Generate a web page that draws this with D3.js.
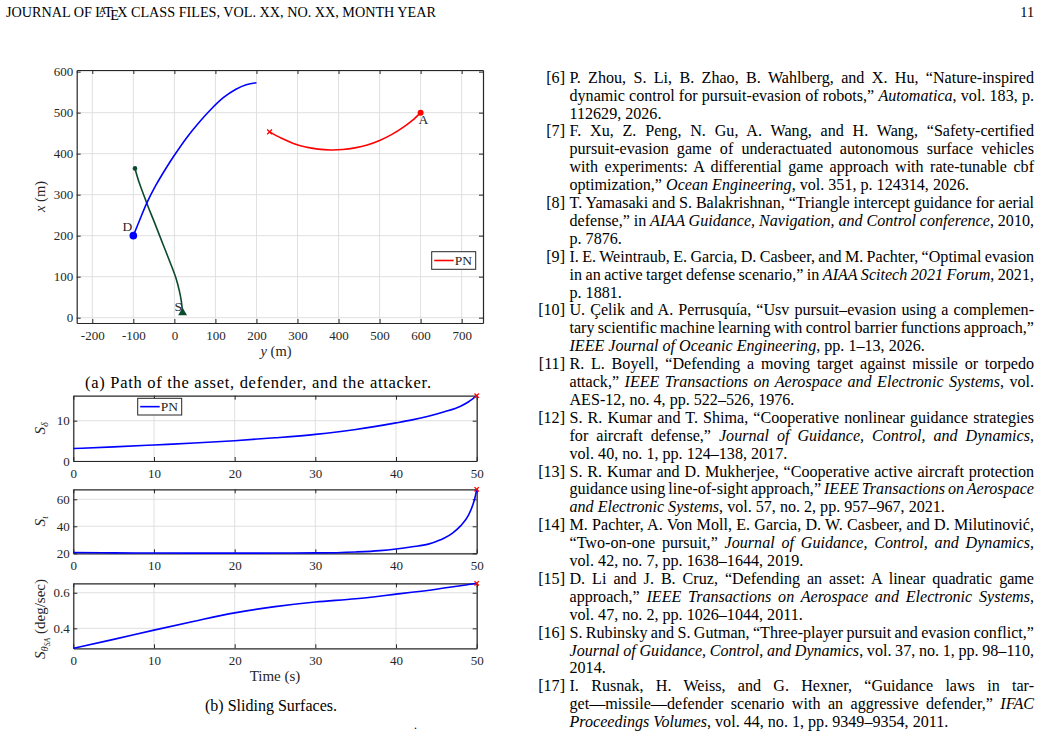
<!DOCTYPE html>
<html>
<head>
<meta charset="utf-8">
<script src="https://cdn.jsdelivr.net/npm/d3@7"></script>
<style>
  body { margin: 0; background: #fff; }
  svg { display: block; }
  text { font-family: "Liberation Serif", "Times New Roman", "DejaVu Serif", serif; }
</style>
</head>
<body>
<svg id="page" width="1042" height="733"></svg>
<script>
// ---- (a) trajectories, horizontal axis is y (m), vertical axis is x (m)
const defenderY = [-100, -85, -67, -45, -20, 0, 30, 60, 90, 120, 150, 175, 200];
const defenderX = [200, 237, 280, 323, 365, 396, 439, 476, 509, 537, 557, 568, 573];
const assetY = [-96, -86, -75, -63, -50, -36, -21, -7, 4, 12, 17, 20];
const assetX = [364, 330, 300, 268, 236, 200, 162, 126, 96, 66, 40, 10];
const attackerY = [600, 580, 560, 530, 500, 470, 440, 410, 380, 350, 320, 290, 260, 232];
const attackerX = [500, 481, 466, 447, 432, 421, 414, 410, 409, 411, 416, 425, 438, 453];
const pathTicksH = [-200, -100, 0, 100, 200, 300, 400, 500, 600, 700];
const pathTicksV = [0, 100, 200, 300, 400, 500, 600];

// ---- (b) sliding surfaces
const timeTicks = [0, 10, 20, 30, 40, 50];
const sDeltaT = [0, 5, 10, 15, 20, 25, 30, 35, 40, 42, 44, 46, 48, 49, 50];
const sDelta = [3.1, 3.5, 3.97, 4.45, 5.04, 5.75, 6.6, 7.8, 9.45, 10.2, 11.1, 12.2, 13.6, 14.7, 16.2];
const sDeltaTicks = [0, 10];
const sTT = [0, 5, 10, 20, 30, 35, 38, 40, 42, 44, 45, 46, 47, 48, 49, 49.5, 49.8, 50];
const sT = [20.6, 20.3, 20.2, 20.1, 20.3, 21.0, 22.0, 23.2, 24.8, 26.8, 28.8, 31.3, 35, 40.3, 48.5, 55.5, 61.5, 67.4];
const sTTicks = [20, 40, 60];
const sThetaT = [0, 5, 10, 15, 20, 25, 30, 35, 40, 45, 50];
const sTheta = [0.288, 0.338, 0.39, 0.44, 0.487, 0.522, 0.548, 0.566, 0.592, 0.62, 0.653];
const sThetaTicks = [0.4, 0.6];

// ---- reference list (right column)
const refLabels = ['[6]', '[7]', '[8]', '[9]', '[10]', '[11]', '[12]', '[13]', '[14]', '[15]', '[16]', '[17]'];
const refLines = [
  ['P. Zhou, S. Li, B. Zhao, B. Wahlberg, and X. Hu, “Nature-inspired',
   'dynamic control for pursuit-evasion of robots,” *Automatica*, vol. 183, p.',
   '112629, 2026.'],
  ['F. Xu, Z. Peng, N. Gu, A. Wang, and H. Wang, “Safety-certified',
   'pursuit-evasion game of underactuated autonomous surface vehicles',
   'with experiments: A differential game approach with rate-tunable cbf',
   'optimization,” *Ocean Engineering*, vol. 351, p. 124314, 2026.'],
  ['T. Yamasaki and S. Balakrishnan, “Triangle intercept guidance for aerial',
   'defense,” in *AIAA Guidance, Navigation, and Control conference*, 2010,',
   'p. 7876.'],
  ['I. E. Weintraub, E. Garcia, D. Casbeer, and M. Pachter, “Optimal evasion',
   'in an active target defense scenario,” in *AIAA Scitech 2021 Forum*, 2021,',
   'p. 1881.'],
  ['U. Çelik and A. Perrusquía, “Usv pursuit–evasion using a complemen-',
   'tary scientific machine learning with control barrier functions approach,”',
   '*IEEE Journal of Oceanic Engineering*, pp. 1–13, 2026.'],
  ['R. L. Boyell, “Defending a moving target against missile or torpedo',
   'attack,” *IEEE Transactions on Aerospace and Electronic Systems*, vol.',
   'AES-12, no. 4, pp. 522–526, 1976.'],
  ['S. R. Kumar and T. Shima, “Cooperative nonlinear guidance strategies',
   'for aircraft defense,” *Journal of Guidance, Control, and Dynamics*,',
   'vol. 40, no. 1, pp. 124–138, 2017.'],
  ['S. R. Kumar and D. Mukherjee, “Cooperative active aircraft protection',
   'guidance using line-of-sight approach,” *IEEE Transactions on Aerospace*',
   '*and Electronic Systems*, vol. 57, no. 2, pp. 957–967, 2021.'],
  ['M. Pachter, A. Von Moll, E. Garcia, D. W. Casbeer, and D. Milutinović,',
   '“Two-on-one pursuit,” *Journal of Guidance, Control, and Dynamics*,',
   'vol. 42, no. 7, pp. 1638–1644, 2019.'],
  ['D. Li and J. B. Cruz, “Defending an asset: A linear quadratic game',
   'approach,” *IEEE Transactions on Aerospace and Electronic Systems*,',
   'vol. 47, no. 2, pp. 1026–1044, 2011.'],
  ['S. Rubinsky and S. Gutman, “Three-player pursuit and evasion conflict,”',
   '*Journal of Guidance, Control, and Dynamics*, vol. 37, no. 1, pp. 98–110,',
   '2014.'],
  ['I. Rusnak, H. Weiss, and G. Hexner, “Guidance laws in tar-',
   'get—missile—defender scenario with an aggressive defender,” *IFAC*',
   '*Proceedings Volumes*, vol. 44, no. 1, pp. 9349–9354, 2011.']
];

const axisColor = '#262626';
const gridColor = '#dcdcdc';
const svg = d3.select('#page');
svg.append('rect').attr('width', 1042).attr('height', 733).attr('fill', '#fff');

// ---------- page header (with the LaTeX logo)
const hs = 14.2;
const header = svg.append('text').attr('x', 6).attr('y', 16.5).attr('font-size', hs);
header.append('tspan').text('JOURNAL OF L');
header.append('tspan').attr('dx', -0.36 * hs).attr('dy', -2.8).attr('font-size', hs * 0.7).text('A');
header.append('tspan').attr('dx', -0.15 * hs).attr('dy', 2.8).text('T');
header.append('tspan').attr('dx', -0.1667 * hs).attr('dy', 3).text('E');
header.append('tspan').attr('dx', -0.125 * hs).attr('dy', -3).text('X CLASS FILES, VOL. XX, NO. XX, MONTH YEAR');
svg.append('text').attr('x', 1034).attr('y', 16.5).attr('font-size', hs)
  .attr('text-anchor', 'end').text('11');

// ---------- shared axis helpers
function drawGrid(g, x, y, xTicks, yTicks) {
  const [l, r] = x.range(), [b, t] = y.range();
  g.selectAll(null).data(xTicks).join('line')
    .attr('x1', d => x(d)).attr('x2', d => x(d)).attr('y1', t).attr('y2', b)
    .attr('stroke', gridColor).attr('stroke-width', 0.9);
  g.selectAll(null).data(yTicks).join('line')
    .attr('y1', d => y(d)).attr('y2', d => y(d)).attr('x1', l).attr('x2', r)
    .attr('stroke', gridColor).attr('stroke-width', 0.9);
}

function styleAxis(sel) {
  sel.attr('font-family', null);
  sel.select('.domain').attr('stroke', axisColor).attr('stroke-width', 1.2);
  sel.selectAll('.tick line').attr('stroke', axisColor).attr('stroke-width', 1);
  sel.selectAll('.tick text').attr('fill', axisColor).attr('font-size', 13);
}

function drawAxes(g, x, y, xTicks, yTicks, fmtY) {
  const [l, r] = x.range(), [b, t] = y.range();
  const fmt = d => String(d);
  g.append('g').attr('transform', `translate(0,${b})`)
    .call(d3.axisBottom(x).tickValues(xTicks).tickSize(-4).tickSizeOuter(0).tickPadding(7.5).tickFormat(fmt))
    .call(styleAxis);
  g.append('g').attr('transform', `translate(0,${t})`)
    .call(d3.axisTop(x).tickValues(xTicks).tickSize(-4).tickSizeOuter(0).tickFormat(''))
    .call(styleAxis);
  g.append('g').attr('transform', `translate(${l},0)`)
    .call(d3.axisLeft(y).tickValues(yTicks).tickSize(-4).tickSizeOuter(0).tickPadding(3.5).tickFormat(fmtY || fmt))
    .call(styleAxis);
  g.append('g').attr('transform', `translate(${r},0)`)
    .call(d3.axisRight(y).tickValues(yTicks).tickSize(-4).tickSizeOuter(0).tickFormat(''))
    .call(styleAxis);
}

function crossMark(g, cx, cy, s, color) {
  g.append('path')
    .attr('d', `M${cx - s},${cy - s}L${cx + s},${cy + s}M${cx - s},${cy + s}L${cx + s},${cy - s}`)
    .attr('stroke', color).attr('stroke-width', 1.3).attr('fill', 'none');
}

function legendBox(g, x0, y0, w, h, color) {
  g.append('rect').attr('x', x0).attr('y', y0).attr('width', w).attr('height', h)
    .attr('fill', '#fff').attr('stroke', axisColor).attr('stroke-width', 1);
  g.append('line').attr('x1', x0 + 2.5).attr('x2', x0 + 22).attr('y1', y0 + h / 2).attr('y2', y0 + h / 2)
    .attr('stroke', color).attr('stroke-width', 1.6);
  g.append('text').attr('x', x0 + 23).attr('y', y0 + h / 2 + 4.6).attr('font-size', 13.5)
    .attr('fill', axisColor).text('PN');
}

// ---------- (a) path plot
const xPath = d3.scaleLinear().domain([-238, 752]).range([76.7, 483]);
const yPath = d3.scaleLinear().domain([-13, 604]).range([323, 70]);
const gPath = svg.append('g');
drawGrid(gPath, xPath, yPath, pathTicksH, pathTicksV);

const pathLine = d3.line().x(d => xPath(d[0])).y(d => yPath(d[1])).curve(d3.curveCatmullRom.alpha(0.5));
const defender = d3.zip(defenderY, defenderX);
const asset = d3.zip(assetY, assetX);
const attacker = d3.zip(attackerY, attackerX);

gPath.append('path').attr('d', pathLine(asset)).attr('fill', 'none')
  .attr('stroke', '#0b4a2c').attr('stroke-width', 1.6);
gPath.append('path').attr('d', pathLine(defender)).attr('fill', 'none')
  .attr('stroke', '#0000ff').attr('stroke-width', 1.6);
gPath.append('path').attr('d', pathLine(attacker)).attr('fill', 'none')
  .attr('stroke', '#ff0000').attr('stroke-width', 1.6);

drawAxes(gPath, xPath, yPath, pathTicksH, pathTicksV);

// markers
gPath.append('circle').attr('cx', xPath(defender[0][0])).attr('cy', yPath(defender[0][1]))
  .attr('r', 3.8).attr('fill', '#0000ff');
gPath.append('circle').attr('cx', xPath(asset[0][0])).attr('cy', yPath(asset[0][1]))
  .attr('r', 2.3).attr('fill', '#0b4a2c');
gPath.append('path').attr('d', d3.symbol(d3.symbolTriangle).size(34)())
  .attr('transform', `translate(${xPath(asset[asset.length - 1][0])},${yPath(asset[asset.length - 1][1]) - 1})`)
  .attr('fill', '#0b4a2c');
gPath.append('circle').attr('cx', xPath(attacker[0][0])).attr('cy', yPath(attacker[0][1]))
  .attr('r', 3).attr('fill', '#ff0000');
crossMark(gPath, xPath(attacker[attacker.length - 1][0]), yPath(attacker[attacker.length - 1][1]), 2.4, '#ff0000');

gPath.append('text').attr('x', xPath(defender[0][0]) - 1).attr('y', yPath(defender[0][1]) - 4.5)
  .attr('text-anchor', 'end').attr('font-size', 13.5).attr('fill', axisColor).text('D');
gPath.append('text').attr('x', xPath(attacker[0][0]) - 2).attr('y', yPath(attacker[0][1]) + 11)
  .attr('font-size', 13.5).attr('fill', axisColor).text('A');
gPath.append('text').attr('x', xPath(asset[asset.length - 1][0]) - 0.5).attr('y', yPath(asset[asset.length - 1][1]) - 2.5)
  .attr('text-anchor', 'end').attr('font-size', 13.5).attr('fill', axisColor).text('S');

legendBox(gPath, 431.7, 251.7, 44, 17.6, '#ff0000');

// axis labels
const xl = svg.append('text').attr('transform', 'translate(45,196.5) rotate(-90)')
  .attr('text-anchor', 'middle').attr('font-size', 14.5).attr('fill', axisColor);
xl.append('tspan').attr('font-style', 'italic').text('x');
xl.append('tspan').text(' (m)');
const yl = svg.append('text').attr('x', 276).attr('y', 356)
  .attr('text-anchor', 'middle').attr('font-size', 14.5).attr('fill', axisColor);
yl.append('tspan').attr('font-style', 'italic').text('y');
yl.append('tspan').text(' (m)');

svg.append('text').attr('x', 258).attr('y', 387.5).attr('text-anchor', 'middle')
  .attr('font-size', 16.5).attr('textLength', 346).attr('lengthAdjust', 'spacing')
  .text('(a) Path of the asset, defender, and the attacker.');

// ---------- (b) sliding surfaces
const xTime = d3.scaleLinear().domain([0, 50]).range([73.3, 476.7]);
const timeLine = (y) => d3.line().x(d => xTime(d[0])).y(d => y(d[1])).curve(d3.curveMonotoneX);

function surfacePlot(tArr, vArr, domain, range, ticks, fmtY) {
  const y = d3.scaleLinear().domain(domain).range(range);
  const g = svg.append('g');
  drawGrid(g, xTime, y, timeTicks, ticks);
  drawAxes(g, xTime, y, timeTicks, ticks, fmtY);
  const pts = d3.zip(tArr, vArr);
  g.append('path').attr('d', timeLine(y)(pts)).attr('fill', 'none')
    .attr('stroke', '#0000ff').attr('stroke-width', 1.6);
  const last = pts[pts.length - 1];
  crossMark(g, xTime(last[0]), y(last[1]), 2.2, '#ff0000');
  return g;
}

const g2 = surfacePlot(sDeltaT, sDelta, [0, 16.2], [461, 395.7], sDeltaTicks);
legendBox(g2, 137.7, 398.3, 44, 16.7, '#0000ff');
surfacePlot(sTT, sT, [20, 67.4], [553.3, 489.3], sTTicks);
surfacePlot(sThetaT, sTheta, [0.288, 0.653], [648.3, 583.3], sThetaTicks, d3.format('.1f'));

const l2 = svg.append('text').attr('transform', 'translate(45,428.3) rotate(-90)')
  .attr('text-anchor', 'middle').attr('font-size', 15).attr('fill', axisColor);
l2.append('tspan').attr('font-style', 'italic').text('S');
l2.append('tspan').attr('font-style', 'italic').attr('font-size', 10.5).attr('dy', 3).text('δ');

const l3 = svg.append('text').attr('transform', 'translate(45,521.3) rotate(-90)')
  .attr('text-anchor', 'middle').attr('font-size', 15).attr('fill', axisColor);
l3.append('tspan').attr('font-style', 'italic').text('S');
l3.append('tspan').attr('font-style', 'italic').attr('font-size', 10.5).attr('dy', 3).text('ι');

const l4 = svg.append('text').attr('transform', 'translate(45,619) rotate(-90)')
  .attr('text-anchor', 'middle').attr('font-size', 15).attr('fill', axisColor);
l4.append('tspan').attr('font-style', 'italic').text('S');
l4.append('tspan').attr('font-style', 'italic').attr('font-size', 10.5).attr('dy', 3).text('θ');
l4.append('tspan').attr('font-style', 'italic').attr('font-size', 7.5).attr('dy', 2).text('SA');
l4.append('tspan').attr('dy', -5).attr('dx', 4).text('(deg/sec)');

svg.append('text').attr('x', 275).attr('y', 681).attr('text-anchor', 'middle')
  .attr('font-size', 15).attr('fill', axisColor).text('Time (s)');
svg.append('text').attr('x', 271).attr('y', 711).attr('text-anchor', 'middle')
  .attr('font-size', 16).text('(b) Sliding Surfaces.');
svg.append('text').attr('x', 414).attr('y', 729).attr('font-size', 12).text('.');

// ---------- references
const refG = svg.append('g').attr('font-size', 16.1).attr('fill', '#000');
const textX = 569.5, textRight = 1034, lineY0 = 82.7, lineStep = 17.9;
let lineIdx = 0;
refLabels.forEach((label, i) => {
  refG.append('text').attr('x', 565).attr('y', lineY0 + lineIdx * lineStep)
    .attr('text-anchor', 'end').text(label);
  refLines[i].forEach((ln, j) => {
    const t = refG.append('text').attr('x', textX).attr('y', lineY0 + lineIdx * lineStep);
    ln.split('*').forEach((seg, k) => {
      if (seg) t.append('tspan').attr('font-style', k % 2 ? 'italic' : null).text(seg);
    });
    if (j < refLines[i].length - 1) {
      const w = t.node().getComputedTextLength();
      const spaces = (ln.match(/ /g) || []).length;
      if (spaces) t.attr('word-spacing', (textRight - textX - w) / spaces);
    }
    lineIdx++;
  });
});
</script>
</body>
</html>
